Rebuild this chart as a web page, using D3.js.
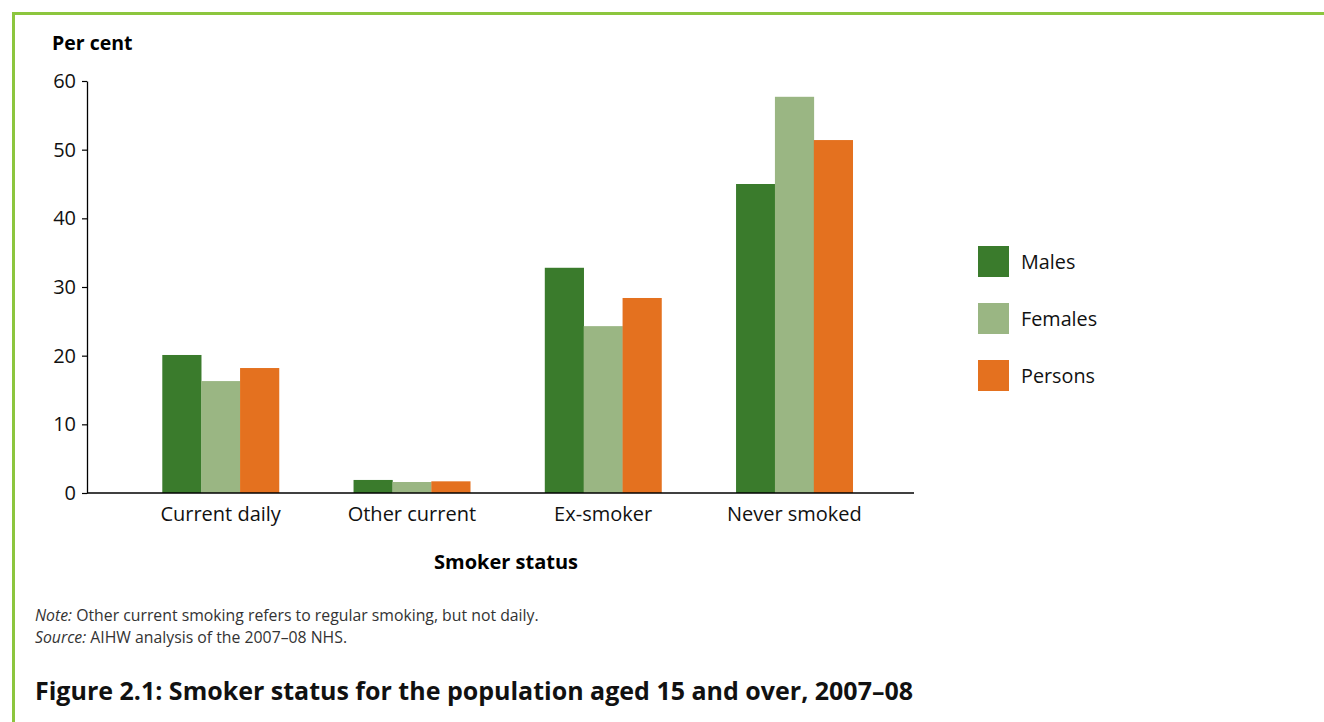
<!DOCTYPE html>
<html>
<head>
<meta charset="utf-8">
<script src="https://cdn.jsdelivr.net/npm/d3@7"></script>
<style>
  body { margin: 0; background: #fff; }
  svg { display: block; font-family: "Open Sans", sans-serif; }
</style>
</head>
<body>
<svg width="1324" height="722"></svg>
<script>
// smoker status data, per cent
let categories = ["Current daily", "Other current", "Ex-smoker", "Never smoked"];
let seriesNames = ["Males", "Females", "Persons"];
let males = [20.1, 1.9, 32.8, 45.0];
let females = [16.3, 1.6, 24.3, 57.7];
let persons = [18.2, 1.7, 28.4, 51.4];
let yTicks = [0, 10, 20, 30, 40, 50, 60];
let colors = ["#3a7b2c", "#9ab683", "#e4711f"];

let seriesValues = [males, females, persons];

let svg = d3.select("svg");

// green frame
svg.append("line")
    .attr("x1", 13.5).attr("y1", 12).attr("x2", 13.5).attr("y2", 722)
    .attr("stroke", "#8cc63e").attr("stroke-width", 3);
svg.append("line")
    .attr("x1", 12).attr("y1", 13.5).attr("x2", 1324).attr("y2", 13.5)
    .attr("stroke", "#8cc63e").attr("stroke-width", 3);

let x0 = d3.scaleBand()
    .domain(categories)
    .range([125, 890])
    .paddingInner(0.39)
    .paddingOuter(0.195);

let x1 = d3.scaleBand()
    .domain(seriesNames)
    .range([0, x0.bandwidth()]);

let y = d3.scaleLinear()
    .domain([0, 60])
    .range([493, 81]);

// bars
let groups = svg.append("g")
    .selectAll("g")
    .data(categories)
    .join("g")
    .attr("transform", d => "translate(" + x0(d) + ",0)");

groups.selectAll("rect")
    .data((d, i) => seriesNames.map((s, j) => ({name: s, value: seriesValues[j][i], color: colors[j]})))
    .join("rect")
    .attr("x", d => x1(d.name))
    .attr("width", x1.bandwidth() + 0.3)
    .attr("y", d => y(d.value))
    .attr("height", d => y(0) - y(d.value))
    .attr("fill", d => d.color);

// y axis
let yAxis = svg.append("g")
    .attr("transform", "translate(87,0)")
    .call(d3.axisLeft(y).tickValues(yTicks).tickSize(5).tickSizeOuter(0).tickPadding(6));
yAxis.select(".domain").attr("stroke", "#000").attr("stroke-width", 1.3);
yAxis.selectAll(".tick line").attr("stroke", "#000").attr("stroke-width", 1.2);
yAxis.selectAll(".tick text")
    .attr("font-size", 20)
    .attr("font-family", "Open Sans, sans-serif")
    .attr("fill", "#111");

// x axis baseline
svg.append("line")
    .attr("x1", 87).attr("x2", 914)
    .attr("y1", y(0)).attr("y2", y(0))
    .attr("stroke", "#000").attr("stroke-width", 1.6);

// category labels
svg.append("g")
    .selectAll("text")
    .data(categories)
    .join("text")
    .attr("x", d => x0(d) + x0.bandwidth() / 2)
    .attr("y", 521)
    .attr("text-anchor", "middle")
    .attr("font-size", 20)
    .attr("fill", "#111")
    .text(d => d);

// axis titles
svg.append("text")
    .attr("x", 52).attr("y", 50)
    .attr("font-size", 19.5).attr("font-weight", "bold")
    .text("Per cent");

svg.append("text")
    .attr("x", 506).attr("y", 569)
    .attr("text-anchor", "middle")
    .attr("font-size", 20).attr("font-weight", "bold")
    .text("Smoker status");

// legend
let legend = svg.append("g")
    .selectAll("g")
    .data(seriesNames)
    .join("g")
    .attr("transform", (d, i) => "translate(978," + (246 + i * 57) + ")");
legend.append("rect")
    .attr("width", 31).attr("height", 31)
    .attr("fill", (d, i) => colors[i]);
legend.append("text")
    .attr("x", 43).attr("y", 23)
    .attr("font-size", 19.8)
    .attr("fill", "#111")
    .text(d => d);

// notes
let note = svg.append("text")
    .attr("x", 35).attr("y", 621)
    .attr("font-size", 15.8).attr("fill", "#333");
note.append("tspan").attr("font-style", "italic").text("Note:");
note.append("tspan").text(" Other current smoking refers to regular smoking, but not daily.");

let source = svg.append("text")
    .attr("x", 35).attr("y", 643)
    .attr("font-size", 15.8).attr("fill", "#333");
source.append("tspan").attr("font-style", "italic").text("Source:");
source.append("tspan").text(" AIHW analysis of the 2007\u201308 NHS.");

// figure caption
svg.append("text")
    .attr("x", 35).attr("y", 700)
    .attr("font-size", 25).attr("font-weight", "bold")
    .attr("fill", "#111")
    .text("Figure 2.1: Smoker status for the population aged 15 and over, 2007\u201308");
</script>
</body>
</html>
